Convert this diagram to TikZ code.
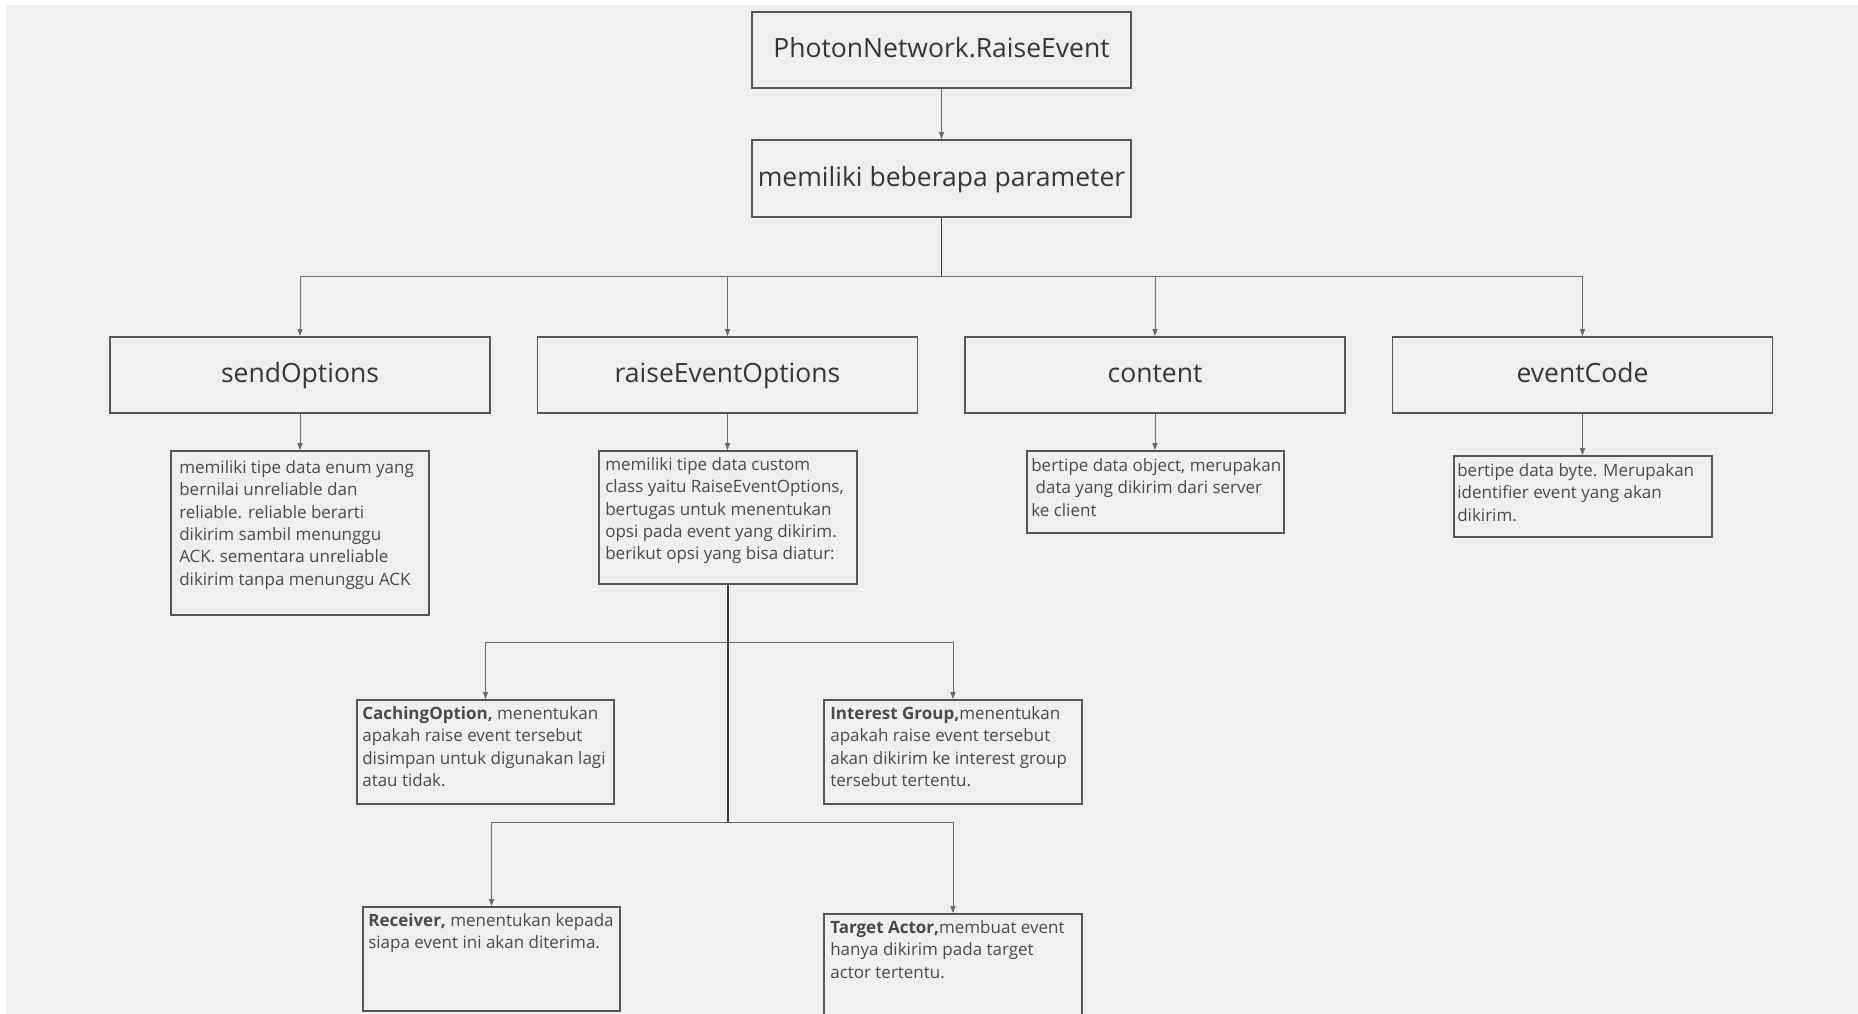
\documentclass[tikz,border=0pt]{standalone}
\usepackage{fontspec}
\setmainfont{Open Sans}
\usetikzlibrary{arrows.meta}
\definecolor{paper}{HTML}{EFEFEF}
\definecolor{edge}{HTML}{555555}
\definecolor{wire}{HTML}{6A6A6A}
\definecolor{trunk}{HTML}{3A3A3A}
\definecolor{ink}{HTML}{363636}
\definecolor{note}{HTML}{4A4A4A}
\begin{document}
\begin{tikzpicture}[x=1pt,y=-1pt,
  bigbox/.style={draw=edge, line width=1.8pt, minimum width=379pt, minimum height=76pt,
    inner sep=0pt, text=ink, font=\fontsize{26.5}{31}\selectfont,
    text height=22pt, text depth=7pt},
  descbox/.style={draw=edge, line width=1.8pt, inner sep=0pt},
  desctext/.style={anchor=north west, inner sep=0pt, align=left, text=note,
    font=\fontsize{17}{22.4}\selectfont},
  conn/.style={draw=wire, line width=1pt},
  heavy/.style={draw=trunk, line width=1.6pt},
  arr/.style={-{Triangle[length=7pt,width=5pt]}}
]
\useasboundingbox (0,0) rectangle (1858,1014);
\clip (0,0) rectangle (1858,1014);
\fill[white] (0,0) rectangle (1858,1014);
\fill[paper] (6,5) rectangle (1858,1014);

% top of the tree
\node[bigbox] (top) at (941.5,50) {PhotonNetwork.RaiseEvent};
\node[bigbox, minimum height=77pt] (param) at (941.5,178.5) {memiliki beberapa parameter};

% the four parameters
\node[bigbox, minimum width=380pt] (send) at (300,375) {sendOptions};
\node[bigbox, minimum width=380pt] (reo) at (727.5,375) {raiseEventOptions};
\node[bigbox, minimum width=380pt] (content) at (1155,375) {content};
\node[bigbox, minimum width=380pt] (code) at (1582.5,375) {eventCode};

% description boxes
\node[descbox, minimum width=258pt, minimum height=164pt] (sd) at (300,533) {};
\node[descbox, minimum width=258pt, minimum height=133pt] (rd) at (728,517.5) {};
\node[descbox, minimum width=257pt, minimum height=82pt] (cd) at (1155.5,492) {};
\node[descbox, minimum width=258pt, minimum height=81pt] (ed) at (1583,496.5) {};

% raiseEventOptions members
\node[descbox, minimum width=257pt, minimum height=104pt] (cache) at (485.5,752) {};
\node[descbox, minimum width=258pt, minimum height=104pt] (group) at (953,752) {};
\node[descbox, minimum width=257pt, minimum height=104pt] (recv) at (491.5,959) {};
\node[descbox, minimum width=258pt, minimum height=130pt] (actor) at (953,979) {};

% texts of the description boxes
\node[desctext] (sdt) at ([shift={(9,10)}]sd.north west)
  {memiliki tipe data enum yang\\bernilai unreliable dan\\reliable. reliable berarti\\dikirim sambil menunggu\\ACK. sementara unreliable\\dikirim tanpa menunggu ACK};
\node[desctext] (rdt) at ([shift={(7,7)}]rd.north west)
  {memiliki tipe data custom\\class yaitu RaiseEventOptions,\\bertugas untuk menentukan\\opsi pada event yang dikirim.\\berikut opsi yang bisa diatur:};
\node[desctext] (cdt) at ([shift={(5,8)}]cd.north west)
  {bertipe data object, merupakan\\\ data yang dikirim dari server\\ke client};
\node[desctext] (edt) at ([shift={(4,8)}]ed.north west)
  {bertipe data byte. Merupakan\\identifier event yang akan\\dikirim.};
\node[desctext] (cachet) at ([shift={(6,7)}]cache.north west)
  {\textbf{CachingOption,} menentukan\\apakah raise event tersebut\\disimpan untuk digunakan lagi\\atau tidak.};
\node[desctext] (groupt) at ([shift={(7,7)}]group.north west)
  {\textbf{Interest Group,}menentukan\\apakah raise event tersebut\\akan dikirim ke interest group\\tersebut tertentu.};
\node[desctext] (recvt) at ([shift={(6,7)}]recv.north west)
  {\textbf{Receiver,} menentukan kepada\\siapa event ini akan diterima.};
\node[desctext] (actort) at ([shift={(7,7)}]actor.north west)
  {\textbf{Target Actor,}membuat event\\hanya dikirim pada target\\actor tertentu.};

% junction levels
\coordinate (bus) at (0,276);
\coordinate (j1) at (0,642);
\coordinate (j2) at (0,822);

% connectors
\draw[conn, arr] (top) -- (param);
\draw[heavy] (param.south) -- (param.south |- bus);
\draw[conn] (send.north |- bus) -- (code.north |- bus);
\foreach \n in {send, reo, content, code}
  \draw[conn, arr] (\n.north |- bus) -- (\n.north);

\draw[conn, arr] (send.south) -- (sd.north);
\draw[conn, arr] (reo.south) -- (reo.south |- rd.north);
\draw[conn, arr] (content.south) -- (content.south |- cd.north);
\draw[conn, arr] (code.south) -- (code.south |- ed.north);

\draw[heavy] (rd.south) -- (rd.south |- j2);
\draw[conn, arr] (rd.south |- j1) -| (cache.north);
\draw[conn, arr] (rd.south |- j1) -| (group.north);
\draw[conn, arr] (rd.south |- j2) -| (recv.north);
\draw[conn, arr] (rd.south |- j2) -| (actor.north);
\end{tikzpicture}
\end{document}
